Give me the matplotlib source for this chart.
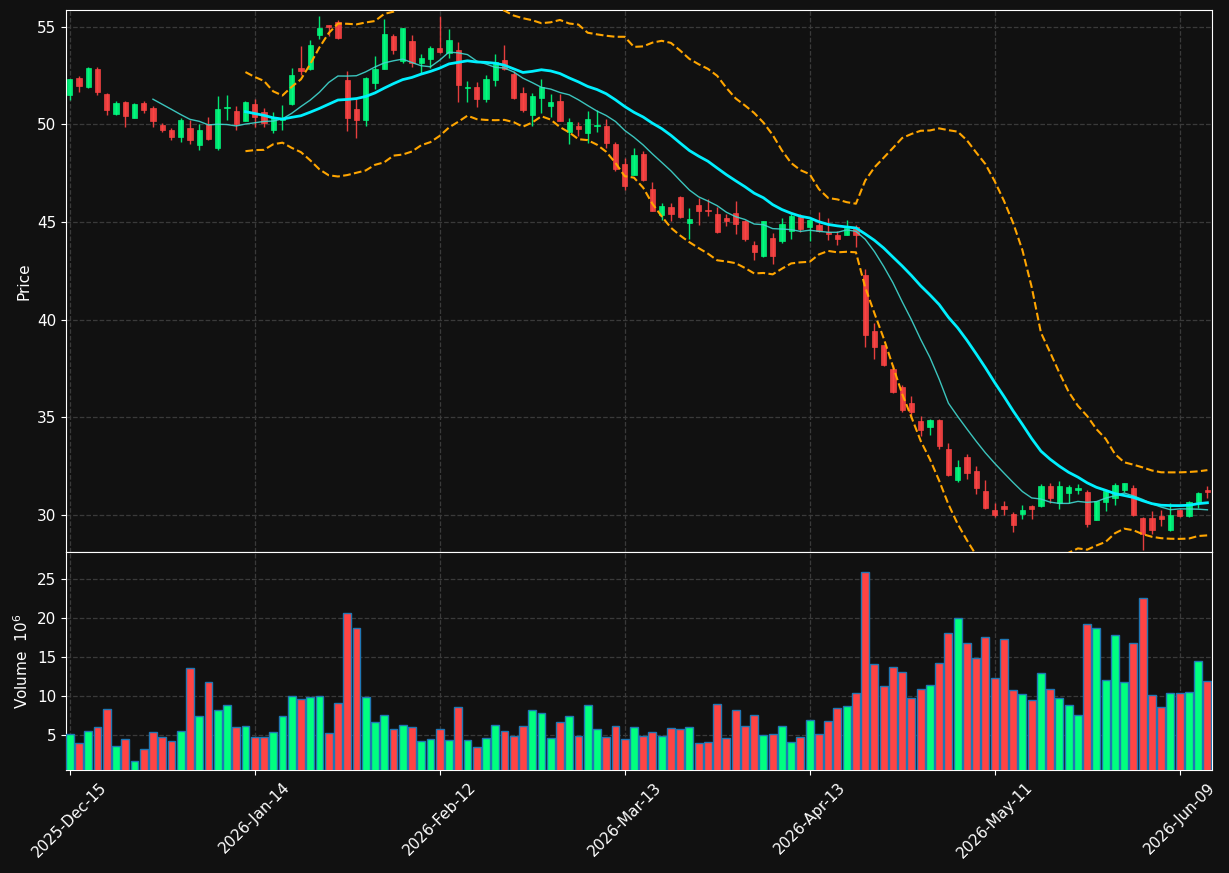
import numpy as np
import pandas as pd
import matplotlib
matplotlib.use("Agg")
import matplotlib.pyplot as plt
from matplotlib.patches import Rectangle

opens = [51.51,52.35,51.90,52.81,51.53,50.52,51.12,50.30,51.09,50.82,
         49.98,49.70,49.34,49.80,48.93,50.00,48.77,50.83,50.68,50.16,
         51.05,50.64,49.70,50.20,51.03,52.86,52.83,54.56,55.06,55.23,
         52.26,50.77,50.23,52.12,52.83,54.50,53.22,54.25,53.13,53.35,
         53.90,53.63,53.79,51.87,51.90,51.28,52.28,53.27,52.56,51.58,
         50.46,51.33,50.94,51.17,49.61,49.89,49.54,49.92,49.89,48.99,
         47.95,47.40,48.47,46.67,45.36,45.75,46.26,44.96,45.89,45.59,
         45.39,45.20,45.44,45.04,43.81,43.24,44.18,44.04,44.54,45.25,
         44.73,44.82,44.50,44.32,44.33,44.72,42.28,39.41,38.68,37.46,
         36.53,35.75,34.79,34.48,34.86,33.36,31.78,32.94,32.24,31.21,
         30.27,30.44,30.03,30.05,30.44,30.44,31.48,30.62,31.12,31.30,
         31.16,29.73,30.66,30.85,31.26,31.37,29.82,29.85,29.93,29.23,
         30.27,29.95,30.66,31.30]
highs = [52.32,52.47,52.95,52.95,51.62,51.17,51.21,51.09,51.21,50.94,
         50.09,49.82,50.32,50.23,50.02,50.37,51.44,51.48,50.94,51.17,
         51.30,50.85,50.61,51.01,52.90,53.99,54.34,55.57,55.10,55.36,
         52.72,51.32,52.42,53.52,55.39,54.61,54.91,54.56,53.58,54.02,
         55.53,54.88,54.23,52.21,52.15,52.51,53.61,54.07,52.72,51.92,
         51.62,52.30,51.53,51.57,50.34,50.14,50.69,50.75,50.28,49.07,
         48.27,48.77,48.65,47.03,45.99,45.99,46.32,45.69,46.23,46.19,
         45.78,45.43,46.07,45.12,44.00,45.07,44.45,45.22,45.43,45.39,
         45.14,45.53,45.21,44.54,45.09,44.82,42.58,39.80,38.68,37.65,
         36.67,36.08,35.04,34.89,34.93,33.70,32.83,33.11,32.52,31.77,
         30.62,30.73,30.16,30.52,30.53,31.60,31.65,31.73,31.55,31.60,
         31.30,30.71,31.30,31.65,31.65,31.55,29.91,30.18,30.23,30.60,
         30.32,30.73,31.18,31.48]
lows = [51.26,51.65,51.85,51.48,50.50,50.46,49.88,50.30,50.59,49.88,
        49.63,49.20,49.09,49.00,48.68,49.20,48.68,50.21,49.72,50.16,
        49.84,49.84,49.57,49.73,51.00,52.51,52.78,54.38,54.50,54.38,
        49.66,49.31,49.93,51.80,52.83,53.58,53.13,52.95,52.63,52.86,
        53.67,53.40,51.12,51.12,50.91,51.14,51.94,52.78,51.30,50.64,
        49.93,50.58,50.37,50.16,49.00,49.38,49.04,49.63,48.81,47.62,
        46.64,47.38,47.08,45.57,45.12,45.07,45.21,44.15,44.82,45.30,
        44.45,44.77,44.40,44.00,43.04,43.19,42.85,43.93,44.11,44.50,
        44.00,44.50,44.06,43.83,44.33,43.73,38.59,37.99,37.63,36.22,
        35.25,34.97,34.04,34.09,33.38,32.00,31.69,31.83,31.05,30.30,
        29.91,30.00,29.12,29.78,29.80,30.41,30.59,30.30,30.62,31.07,
        29.38,29.73,30.18,30.53,31.16,29.96,28.20,29.04,29.43,29.15,
        29.87,29.87,30.36,30.89]
closes = [52.30,51.94,52.86,51.64,50.71,51.09,50.41,51.03,50.71,50.16,
          49.70,49.34,50.21,49.18,49.70,49.23,50.77,50.87,50.00,51.12,
          50.35,50.05,50.37,50.34,52.51,52.72,54.04,54.91,55.00,54.43,
          50.32,50.23,52.35,52.81,54.61,53.81,54.91,53.13,53.38,53.90,
          53.70,54.34,52.01,51.90,51.30,52.31,53.19,52.81,51.33,50.73,
          51.44,51.90,51.12,50.16,50.11,49.75,50.27,49.97,49.04,47.70,
          46.85,48.42,47.14,45.57,45.80,45.39,45.27,45.14,45.57,45.54,
          44.48,45.06,44.89,44.13,43.47,45.04,43.26,44.91,45.28,44.63,
          45.08,44.52,44.40,44.11,44.68,44.34,39.20,38.59,37.68,36.28,
          35.36,35.28,34.36,34.86,33.54,32.05,32.43,32.15,31.40,30.33,
          30.02,30.30,29.48,30.25,30.28,31.48,30.85,31.48,31.41,31.36,
          29.52,30.71,31.23,31.51,31.65,30.00,29.04,29.21,29.77,30.01,
          29.95,30.66,31.12,31.19]
volumes = [5.12,3.96,5.46,5.98,8.30,3.53,4.43,1.59,3.18,5.33,
           4.69,4.17,5.46,13.59,7.39,11.78,8.17,8.81,5.98,6.10,
           4.69,4.69,5.33,7.39,9.97,9.59,9.85,9.97,5.20,9.07,
           20.55,18.62,9.85,6.62,7.52,5.72,6.23,5.98,4.17,4.43,
           5.72,4.30,8.56,4.30,3.40,4.56,6.23,5.46,4.82,6.10,
           8.17,7.78,4.56,6.62,7.39,4.82,8.81,5.72,4.69,6.10,
           4.43,5.98,4.82,5.33,4.82,5.85,5.72,5.98,3.91,4.04,
           8.94,4.56,8.17,6.10,7.52,4.94,5.07,6.10,4.04,4.69,
           6.88,5.07,6.75,8.43,8.68,10.36,25.84,14.10,11.26,13.71,
           13.07,9.72,10.88,11.39,14.23,18.10,19.91,16.81,14.88,17.58,
           12.30,17.33,10.75,10.23,9.46,12.94,10.88,9.72,8.81,7.52,
           19.13,18.74,12.04,17.84,11.78,16.81,22.48,10.10,8.56,10.36,
           10.36,10.49,14.49,11.91]

tick_positions = [0, 20, 40, 60, 80, 100, 120]
tick_labels = ['2025-Dec-15', '2026-Jan-14', '2026-Feb-12', '2026-Mar-13',
               '2026-Apr-13', '2026-May-11', '2026-Jun-09']

BG = '#111111'
UP = '#00ff80'
DOWN = '#ff4444'

o = np.array(opens); h = np.array(highs); l = np.array(lows); c = np.array(closes)
v = np.array(volumes)
x = np.arange(len(c))
cs = pd.Series(c)
ma10 = cs.rolling(10).mean()
ma20 = cs.rolling(20).mean()
sd20 = cs.rolling(20).std()
bb_up = ma20 + 2 * sd20
bb_lo = ma20 - 2 * sd20

fig = plt.figure(figsize=(12.29, 8.73), dpi=100, facecolor=BG)
axp = fig.add_axes([0.0537, 0.3677, 0.9325, 0.6208], facecolor=BG)
axv = fig.add_axes([0.0537, 0.1180, 0.9325, 0.2497], facecolor=BG, sharex=axp)

up = c >= o
for ax in (axp, axv):
    ax.grid(True, color='#3a3a3a', linestyle='--', linewidth=0.9)
    ax.set_axisbelow(True)
    for s in ax.spines.values():
        s.set_color('white')
    ax.tick_params(colors='white', labelsize=11)

bw = 0.56
for i in range(len(c)):
    col = UP if up[i] else DOWN
    axp.vlines(x[i], l[i], h[i], color=col, linewidth=1.0, alpha=0.9, zorder=2)
    bot = min(o[i], c[i]); hgt = max(abs(c[i] - o[i]), 0.03)
    axp.add_patch(Rectangle((x[i] - bw / 2, bot), bw, hgt, facecolor=col,
                            edgecolor=col, linewidth=0.5, alpha=0.9, zorder=3))

axp.plot(x, ma10, color='#40d8d0', linewidth=1.0, alpha=0.9, zorder=4)
axp.plot(x, ma20, color='#00f0ff', linewidth=2.0, zorder=4)
axp.plot(x, bb_up, color='orange', linestyle='--', linewidth=1.5, zorder=4)
axp.plot(x, bb_lo, color='orange', linestyle='--', linewidth=1.5, zorder=4)

axp.set_ylim(28.1, 55.85)
axp.set_yticks([30, 35, 40, 45, 50, 55])
axp.set_ylabel('Price', color='white', fontsize=11)
axp.tick_params(axis='x', labelbottom=False, length=0)

vcol = [UP if u else DOWN for u in up]
axv.bar(x, v, width=0.85, color=vcol, edgecolor='#1f77b4', linewidth=1.0, zorder=3)
axv.set_ylim(0.3 * v.min(), 1.1 * v.max())
axv.set_yticks([5, 10, 15, 20, 25])
axv.set_ylabel('Volume  $10^6$', color='white', fontsize=11)

axv.set_xlim(-0.4, 123.5)
axv.set_xticks(tick_positions)
axv.set_xticklabels(tick_labels, rotation=45)

fig.savefig('out.png', dpi=100, facecolor=BG)
